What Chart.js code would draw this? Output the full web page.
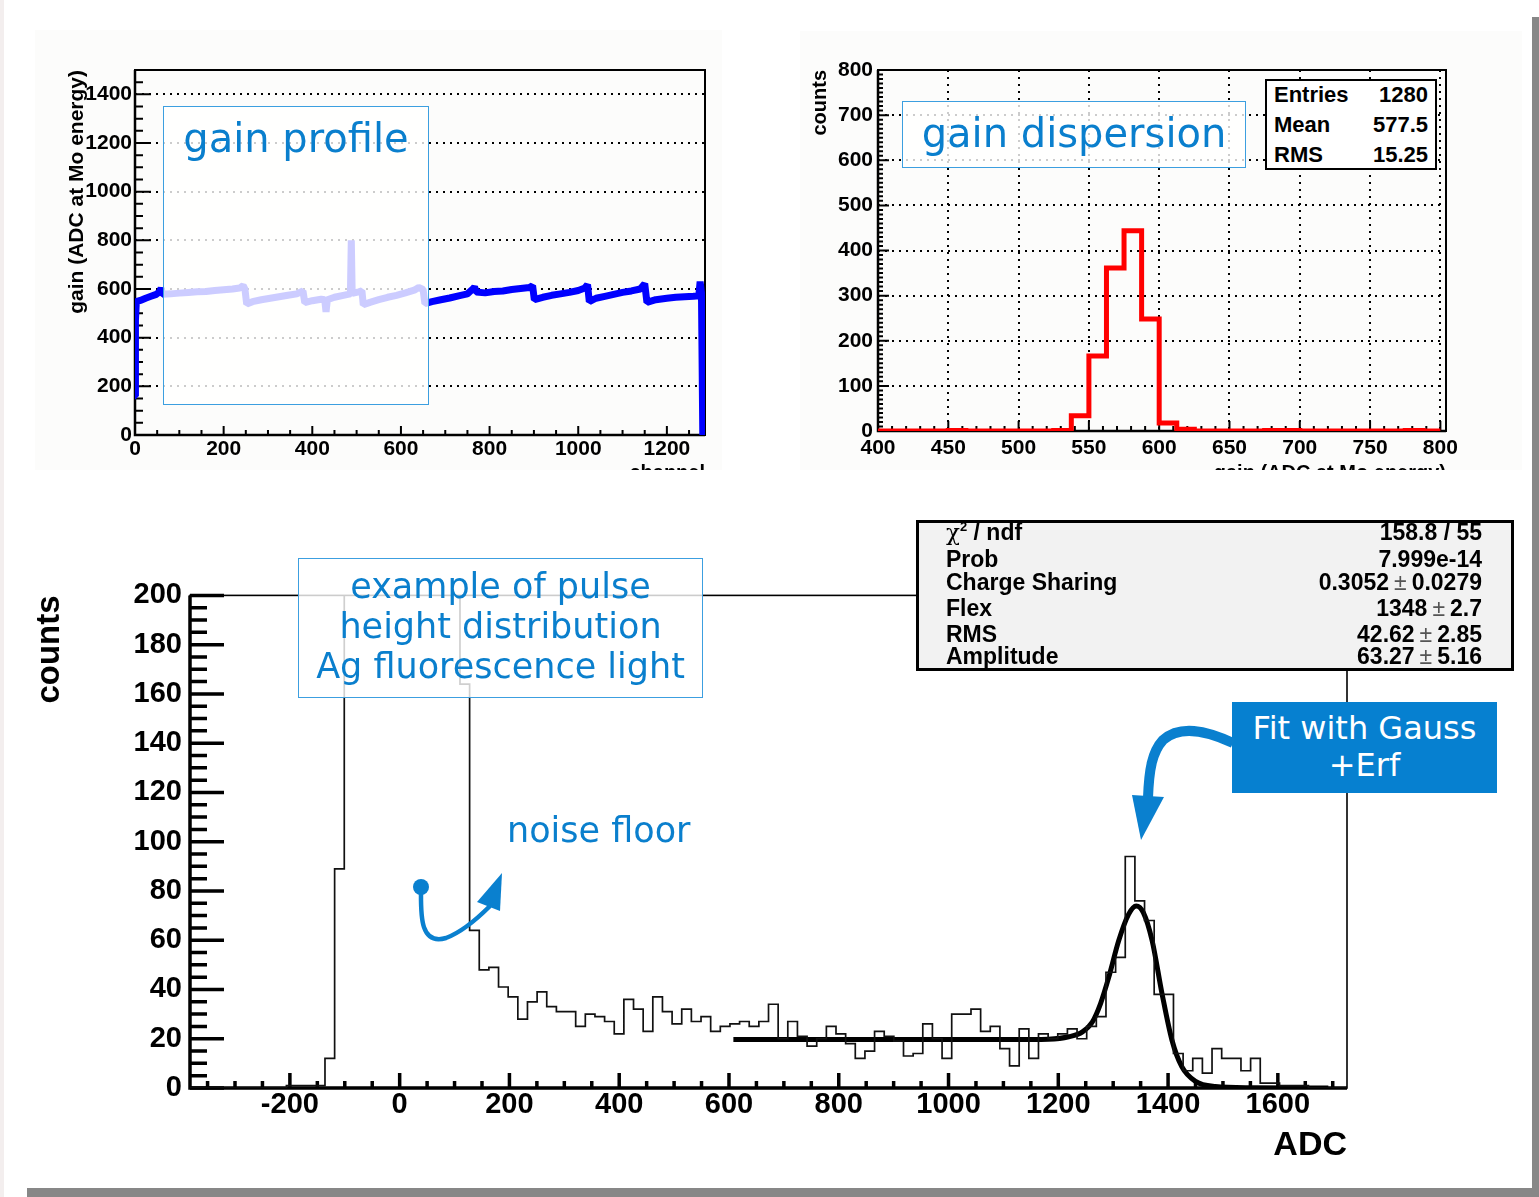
<!DOCTYPE html>
<html>
<head>
<meta charset="utf-8">
<script src="https://cdn.jsdelivr.net/npm/chart.js@4.4.1/dist/chart.umd.min.js"></script>
<style>
  html, body { margin: 0; padding: 0; }
  body { width: 1539px; height: 1197px; position: relative; overflow: hidden; background: #fff; font-family: 'Liberation Sans', Arial, sans-serif; }
  .abs { position: absolute; }
  .panel { position: absolute; background: #fcfcfb; overflow: hidden; }
  .panel canvas, #bottomWrap canvas { position: absolute; left: 0; top: 0; }
  .note { position: absolute; box-sizing: border-box; border: 1px solid #3c9fe0; background: rgba(255,255,255,0.8);
          color: #0a7fcd; font-family: 'DejaVu Sans', sans-serif; text-align: center; z-index: 5; }
  .stats { position: absolute; border: 2px solid #000; background: #fff; z-index: 5; font-weight: bold; color: #000; }
  .stats .row { position: absolute; display: flex; justify-content: space-between; align-items: baseline; white-space: nowrap; }
  .stats sup { line-height: 0; }
  .pm { font-weight: normal; color: #555; padding: 0 5px; }
</style>
</head>
<body>

<!-- slide edges -->
<div class="abs" style="left:0;top:0;width:4px;height:1197px;background:#f3eeee;"></div>
<div class="abs" style="left:1532px;top:17px;width:7px;height:1180px;background:#878787;"></div>
<div class="abs" style="left:27px;top:1188px;width:1512px;height:9px;background:#878787;"></div>

<!-- gain profile -->
<div class="panel" style="left:35px;top:30px;width:687px;height:440px;">
  <canvas id="profile" width="687" height="455" style="width:687px;height:455px;"></canvas>
</div>
<div class="note" style="left:163px;top:106px;width:266px;height:299px;font-size:40px;line-height:48px;padding-top:7px;">gain profile</div>

<!-- gain dispersion -->
<div class="panel" style="left:800px;top:31px;width:722px;height:439px;">
  <canvas id="dispersion" width="722" height="454" style="width:722px;height:454px;"></canvas>
</div>
<div class="note" style="left:902px;top:101px;width:344px;height:67px;font-size:40px;line-height:46px;padding-top:8px;">gain dispersion</div>
<div class="stats" style="left:1265px;top:79px;width:168px;height:87px;font-size:22px;line-height:24px;">
  <div class="row" style="left:7px;right:7px;top:2px;"><span>Entries</span><span>1280</span></div>
  <div class="row" style="left:7px;right:7px;top:32px;"><span>Mean</span><span>577.5</span></div>
  <div class="row" style="left:7px;right:7px;top:62px;"><span>RMS</span><span>15.25</span></div>
</div>

<!-- pulse height spectrum -->
<div id="bottomWrap" class="abs" style="left:0;top:570px;width:1360px;height:596px;">
  <canvas id="spectrum" width="1360" height="596" style="width:1360px;height:596px;"></canvas>
</div>
<div class="note" style="left:298px;top:558px;width:405px;height:140px;font-size:35px;line-height:40px;padding-top:7px;">example of pulse<br>height distribution<br>Ag fluorescence light</div>
<div class="abs" style="left:507px;top:810px;font-family:'DejaVu Sans',sans-serif;font-size:35px;line-height:40px;color:#0a7fcd;z-index:5;">noise floor</div>

<div class="stats" style="left:916px;top:520px;width:592px;height:145px;border-width:3px;background:#f2f2f2;font-size:23px;line-height:24px;">
  <div class="row" style="left:27px;right:29px;top:-3px;"><span><span style="font-family:'DejaVu Serif',serif;font-weight:normal;">χ</span><sup style="font-size:13px;">2</sup> / ndf</span><span>158.8 / 55</span></div>
  <div class="row" style="left:27px;right:29px;top:24px;"><span>Prob</span><span>7.999e-14</span></div>
  <div class="row" style="left:27px;right:29px;top:47px;"><span>Charge Sharing</span><span>0.3052<span class="pm">±</span>0.0279</span></div>
  <div class="row" style="left:27px;right:29px;top:73px;"><span>Flex</span><span>1348<span class="pm">±</span>2.7</span></div>
  <div class="row" style="left:27px;right:29px;top:99px;"><span>RMS</span><span>42.62<span class="pm">±</span>2.85</span></div>
  <div class="row" style="left:27px;right:29px;top:121px;"><span>Amplitude</span><span>63.27<span class="pm">±</span>5.16</span></div>
</div>

<div class="abs" style="left:1232px;top:702px;width:265px;height:83px;padding-top:8px;background:#0680d0;color:#fff;font-family:'DejaVu Sans',sans-serif;font-size:32px;line-height:37px;text-align:center;z-index:5;">Fit with Gauss<br>+Erf</div>

<svg class="abs" style="left:0;top:0;z-index:6;" width="1539" height="1197">
  <circle cx="421" cy="887" r="8" fill="#0a80cf"/>
  <path d="M421 890 C421 912 419 946 446 938 C462 932 476 920 490 906" fill="none" stroke="#0a80cf" stroke-width="4.5"/>
  <polygon points="502,873 477,902 500,911" fill="#0a80cf"/>
  <path d="M1233 743 C1205 730 1180 725 1163 740 C1152 752 1149 770 1148 798" fill="none" stroke="#0a80cf" stroke-width="10"/>
  <polygon points="1132,795 1164,797 1141,840" fill="#0a80cf"/>
</svg>

<script>
// ---------- gain profile (channel vs gain) ----------
const channels = [0, 1, 3, 12, 24, 36, 48, 56, 59, 62, 80, 100, 120, 140, 160, 180, 200, 220, 236, 244, 248, 252,
  265, 285, 305, 325, 345, 365, 379, 383, 400, 420, 428, 431, 434, 450, 470, 486, 488, 490, 505, 512, 515,
  530, 550, 570, 590, 610, 630, 640, 650, 654, 670, 690, 710, 730, 750, 762, 766, 770, 790, 810, 830, 850,
  870, 890, 897, 901, 920, 940, 960, 980, 1000, 1015, 1021, 1025, 1040, 1060, 1080, 1100, 1120, 1140, 1150,
  1155, 1175, 1200, 1220, 1240, 1260, 1272, 1275, 1278, 1281];
const gains = [160, 470, 548, 553, 562, 570, 578, 590, 604, 578, 580, 583, 586, 589, 590, 594, 597, 600, 604, 614, 600, 538,
  548, 556, 562, 568, 574, 580, 592, 544, 552, 558, 556, 506, 556, 566, 574, 580, 800, 582, 588, 592, 535,
  545, 556, 566, 574, 584, 595, 606, 598, 540, 548, 556, 563, 572, 580, 600, 608, 588, 584, 590, 592, 598,
  602, 606, 614, 556, 566, 574, 580, 586, 594, 604, 618, 548, 562, 570, 578, 586, 592, 600, 622,
  545, 556, 562, 566, 568, 570, 572, 630, 585, 0];
const profileXTicks = [0, 200, 400, 600, 800, 1000, 1200];
const profileYTicks = [0, 200, 400, 600, 800, 1000, 1200, 1400];

// ---------- gain dispersion histogram ----------
const gainLow = 400;
const gainBinWidth = 12.5;
const gainCounts = [0, 0, 0, 0, 1, 0, 0, 0, 0, 0, 1, 34, 166, 361, 444, 248, 18, 4, 0, 0, 0, 0, 1, 1, 0, 0, 0, 0, 0, 0, 1, 0];
const dispXTicks = [400, 450, 500, 550, 600, 650, 700, 750, 800];
const dispYTicks = [0, 100, 200, 300, 400, 500, 600, 700, 800];

// ---------- pulse height spectrum ----------
const adcMin = -382;
const adcMax = 1726;
const adcBinWidth = 17.567;
const adcCounts = [
  0, 0, 0, 0, 0, 0, 0, 0, 0, 0,
  1, 1, 1, 1, 12, 89, 420, 760, 1100, 1350,
  1500, 1480, 1300, 1050, 780, 520, 350, 240, 164, 64,
  48, 49, 41, 37, 28, 35, 39, 33, 31, 31,
  25, 30, 29, 27, 22, 36, 32, 23, 37, 31,
  26, 32, 27, 29, 23, 25, 26, 27, 25, 27,
  34, 20, 27, 21, 17, 20, 25, 22, 18, 12,
  15, 23, 21, 19, 13, 14, 26, 20, 12, 30,
  30, 32, 23, 25, 16, 9, 24, 12, 22, 20,
  22, 24, 20, 25, 29, 47, 53, 94, 76, 68,
  38, 38, 14, 7, 12, 6, 16, 12, 12, 7,
  12, 2, 2, 1, 1, 1, 0, 0, 0, 0
];
const fitX = [608, 800, 1000, 1150, 1182, 1219, 1244, 1262, 1277, 1292, 1310, 1328, 1342, 1355, 1371, 1389, 1407, 1425, 1450, 1486, 1550, 1692];
const fitY = [19.7, 19.7, 19.7, 19.7, 19.8, 20.8, 22.8, 26.8, 34.3, 45, 59.8, 70.5, 73.9, 71.2, 59.8, 38.3, 19.5, 8.7, 2.7, 0.6, 0.1, 0];
const adcXTicks = [-200, 0, 200, 400, 600, 800, 1000, 1200, 1400, 1600];
const adcYTicks = [0, 20, 40, 60, 80, 100, 120, 140, 160, 180, 200];

Chart.defaults.font.family = "'Liberation Sans', Arial, sans-serif";
Chart.defaults.color = '#000';
Chart.defaults.animation = false;

// histogram outline: one point per bin low edge, value held until the next edge
function histPoints(low, width, counts) {
  const pts = counts.map((c, i) => ({ x: low + i * width, y: c }));
  pts.push({ x: low + counts.length * width, y: counts[counts.length - 1] });
  return pts;
}

// ROOT style axes: inward ticks + frame, drawn under the data
const rootFrame = {
  id: 'rootFrame',
  beforeDatasetsDraw(chart, args, o) {
    const { ctx, chartArea: a } = chart;
    const x = chart.scales.x, y = chart.scales.y;
    const isMajor = (v, step) => Math.abs(v / step - Math.round(v / step)) < 1e-6;
    ctx.save();
    ctx.strokeStyle = '#000';
    ctx.lineWidth = o.tickWidth;
    ctx.beginPath();
    for (let k = Math.ceil(x.min / o.xMinor - 1e-9); k * o.xMinor <= x.max + 1e-9; k++) {
      const v = k * o.xMinor, p = x.getPixelForValue(v);
      ctx.moveTo(p, a.bottom);
      ctx.lineTo(p, a.bottom - (isMajor(v, o.xMajor) ? o.xMajorLen : o.xMinorLen));
    }
    for (let k = Math.ceil(y.min / o.yMinor - 1e-9); k * o.yMinor <= y.max + 1e-9; k++) {
      const v = k * o.yMinor, p = y.getPixelForValue(v);
      ctx.moveTo(a.left, p);
      ctx.lineTo(a.left + (isMajor(v, o.yMajor) ? o.yMajorLen : o.yMinorLen), p);
    }
    ctx.stroke();
    ctx.lineWidth = o.frameWidth;
    ctx.strokeRect(a.left, a.top, a.right - a.left, a.bottom - a.top);
    ctx.lineWidth = o.axisWidth;
    ctx.beginPath();
    ctx.moveTo(a.left, a.top);
    ctx.lineTo(a.left, a.bottom);
    ctx.lineTo(a.right, a.bottom);
    ctx.stroke();
    ctx.restore();
  }
};

function rootScale({ min, max, ticks, horizontal, size, pad, font, grid, title, titleSize, titlePad }) {
  return {
    type: 'linear',
    min, max,
    afterBuildTicks: s => { s.ticks = ticks.map(v => ({ value: v })); },
    afterFit: s => { if (horizontal) s.height = size; else s.width = size; },
    grid: { display: !!grid, color: '#000', lineWidth: 2, drawTicks: false },
    border: { display: false, dash: [2, 5] },
    ticks: { autoSkip: false, maxRotation: 0, padding: pad, font: { size: font, weight: 'bold' }, callback: v => v },
    title: { display: true, text: title, align: 'end', font: { size: titleSize, weight: 'bold' },
             padding: { top: titlePad, bottom: 0 } }
  };
}

new Chart(document.getElementById('profile'), {
  type: 'line',
  data: {
    datasets: [{
      data: channels.map((c, i) => ({ x: c, y: gains[i] })),
      borderColor: '#0000ff', borderWidth: 7, borderJoinStyle: 'bevel', pointRadius: 0, tension: 0
    }]
  },
  options: {
    responsive: false,
    layout: { padding: { left: 0, right: 17, top: 40, bottom: 0 } },
    plugins: { legend: { display: false }, tooltip: { enabled: false },
      rootFrame: { xMajor: 200, xMinor: 50, xMajorLen: 9, xMinorLen: 5, yMajor: 200, yMinor: 50, yMajorLen: 16, yMinorLen: 8,
                   tickWidth: 2, frameWidth: 2, axisWidth: 2.5 } },
    scales: {
      x: rootScale({ min: 0, max: 1286, ticks: profileXTicks, horizontal: true, size: 50, pad: 2, font: 21,
                     title: 'channel', titleSize: 20, titlePad: 0 }),
      y: rootScale({ min: 0, max: 1500, ticks: profileYTicks, size: 100, pad: 3, font: 21, grid: true,
                     title: 'gain (ADC at Mo energy)', titleSize: 21, titlePad: 30 })
    }
  },
  plugins: [rootFrame]
});

new Chart(document.getElementById('dispersion'), {
  type: 'line',
  data: {
    datasets: [{
      data: histPoints(gainLow, gainBinWidth, gainCounts),
      stepped: 'before', borderColor: '#ff0000', borderWidth: 5, pointRadius: 0
    }]
  },
  options: {
    responsive: false,
    layout: { padding: { left: 0, right: 76, top: 39, bottom: 0 } },
    plugins: { legend: { display: false }, tooltip: { enabled: false },
      rootFrame: { xMajor: 50, xMinor: 10, xMajorLen: 10, xMinorLen: 5, yMajor: 100, yMinor: 10, yMajorLen: 11, yMinorLen: 5,
                   tickWidth: 2, frameWidth: 2, axisWidth: 2.5 } },
    scales: {
      x: rootScale({ min: 400, max: 804, ticks: dispXTicks, horizontal: true, size: 54, pad: 5, font: 21, grid: true,
                     title: 'gain (ADC at Mo energy)', titleSize: 20, titlePad: 0 }),
      y: rootScale({ min: 0, max: 800, ticks: dispYTicks, size: 78, pad: 5, font: 21, grid: true,
                     title: 'counts', titleSize: 20, titlePad: 8 })
    }
  },
  plugins: [rootFrame]
});

new Chart(document.getElementById('spectrum'), {
  type: 'line',
  data: {
    datasets: [
      {
        data: histPoints(adcMin, adcBinWidth, adcCounts),
        stepped: 'before', borderColor: '#111', borderWidth: 1.7, pointRadius: 0
      },
      {
        data: fitX.map((v, i) => ({ x: v, y: fitY[i] })),
        borderColor: '#000', borderWidth: 5, pointRadius: 0, cubicInterpolationMode: 'monotone'
      }
    ]
  },
  options: {
    responsive: false,
    layout: { padding: { left: 0, right: 13, top: 22, bottom: 0 } },
    plugins: { legend: { display: false }, tooltip: { enabled: false },
      rootFrame: { xMajor: 200, xMinor: 50, xMajorLen: 15, xMinorLen: 7, yMajor: 20, yMinor: 5, yMajorLen: 34, yMinorLen: 17,
                   tickWidth: 3.5, frameWidth: 1.6, axisWidth: 3.5 } },
    scales: {
      x: rootScale({ min: adcMin, max: adcMax, ticks: adcXTicks, horizontal: true, size: 78, pad: 0, font: 29,
                     title: 'ADC', titleSize: 34, titlePad: 0 }),
      y: rootScale({ min: 0, max: 200, ticks: adcYTicks, size: 190, pad: 8, font: 29,
                     title: 'counts', titleSize: 33, titlePad: 30 })
    }
  },
  plugins: [rootFrame]
});
</script>
</body>
</html>
